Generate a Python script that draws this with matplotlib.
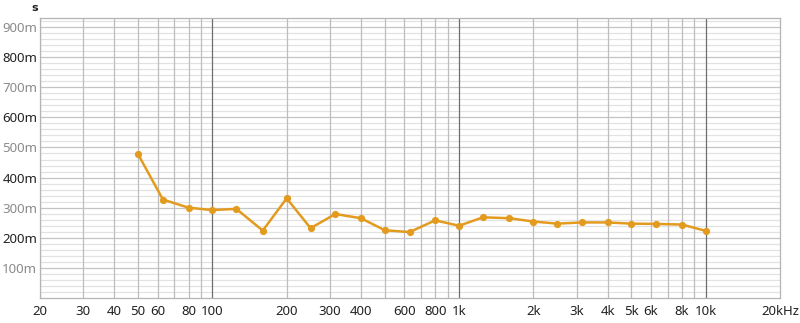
import numpy as np
import matplotlib
matplotlib.use('Agg')
import matplotlib.pyplot as plt

plt.rcParams['font.family'] = ['Noto Sans', 'DejaVu Sans']

# third-octave band centres (Hz) and reverberation time (s)
freqs = [50, 63, 80, 100, 125, 160, 200, 250, 315, 400, 500, 630, 800,
         1000, 1250, 1600, 2000, 2500, 3150, 4000, 5000, 6300, 8000, 10000]
rt = [0.477, 0.327, 0.300, 0.292, 0.296, 0.224, 0.331, 0.232, 0.279, 0.265,
      0.225, 0.219, 0.258, 0.240, 0.268, 0.265, 0.254, 0.247, 0.251, 0.251,
      0.247, 0.246, 0.244, 0.223]

xtick_vals = [20, 30, 40, 50, 60, 80, 100, 200, 300, 400, 600, 800,
              1000, 2000, 3000, 4000, 5000, 6000, 8000, 10000, 20000]
xtick_labels = ['20', '30', '40', '50', '60', '80', '100', '200', '300', '400',
                '600', '800', '1k', '2k', '3k', '4k', '5k', '6k', '8k', '10k', '20kHz']
ytick_vals = [0.1, 0.2, 0.3, 0.4, 0.5, 0.6, 0.7, 0.8, 0.9]
ytick_labels = ['100m', '200m', '300m', '400m', '500m', '600m', '700m', '800m', '900m']

line_col = '#E39B1F'

fig = plt.figure(figsize=(8, 3.23), dpi=100)
ax = fig.add_axes([40 / 800, 25 / 323, 740 / 800, 280 / 323])
ax.set_xscale('log')
ax.set_xlim(20, 20000)
ax.set_ylim(0, 0.93)

# horizontal grid: fine every 20m, stronger every 100m
for v in np.arange(0.02, 0.93, 0.02):
    major = abs(v * 10 - round(v * 10)) < 1e-6
    ax.axhline(v, color='#C4C4C4' if major else '#E2E2E2', lw=0.9, zorder=0)

# vertical grid up to 10k, decades darker
for dec in [10, 100, 1000]:
    for m in range(2, 11):
        f = dec * m
        if f < 20:
            continue
        dark = m == 10
        ax.axvline(f, color='#6E6E6E' if dark else '#BDBDBD', lw=0.9, zorder=0)

ax.plot(freqs, rt, color=line_col, lw=1.8, marker='o', ms=5.2,
        markeredgewidth=0, zorder=3)

ax.set_xticks(xtick_vals)
ax.set_xticklabels(xtick_labels)
ax.xaxis.set_minor_locator(matplotlib.ticker.NullLocator())
ax.set_yticks(ytick_vals)
ax.set_yticklabels(ytick_labels)
ax.tick_params(length=0, labelsize=9.5)
ax.tick_params(axis='y', pad=2)
ax.tick_params(axis='x', pad=5, colors='#222222')
for i, lab in enumerate(ax.get_yticklabels()):
    lab.set_color('#222222' if i % 2 == 1 else '#8A8A8A')

for sp in ax.spines.values():
    sp.set_color('#B4B4B4')
    sp.set_linewidth(0.9)

fig.text(35 / 800, 1 - 8 / 323, 's', ha='center', va='center',
         fontsize=8, fontweight='bold', family='DejaVu Sans', color='#222222')

fig.savefig('out.png', dpi=100)
